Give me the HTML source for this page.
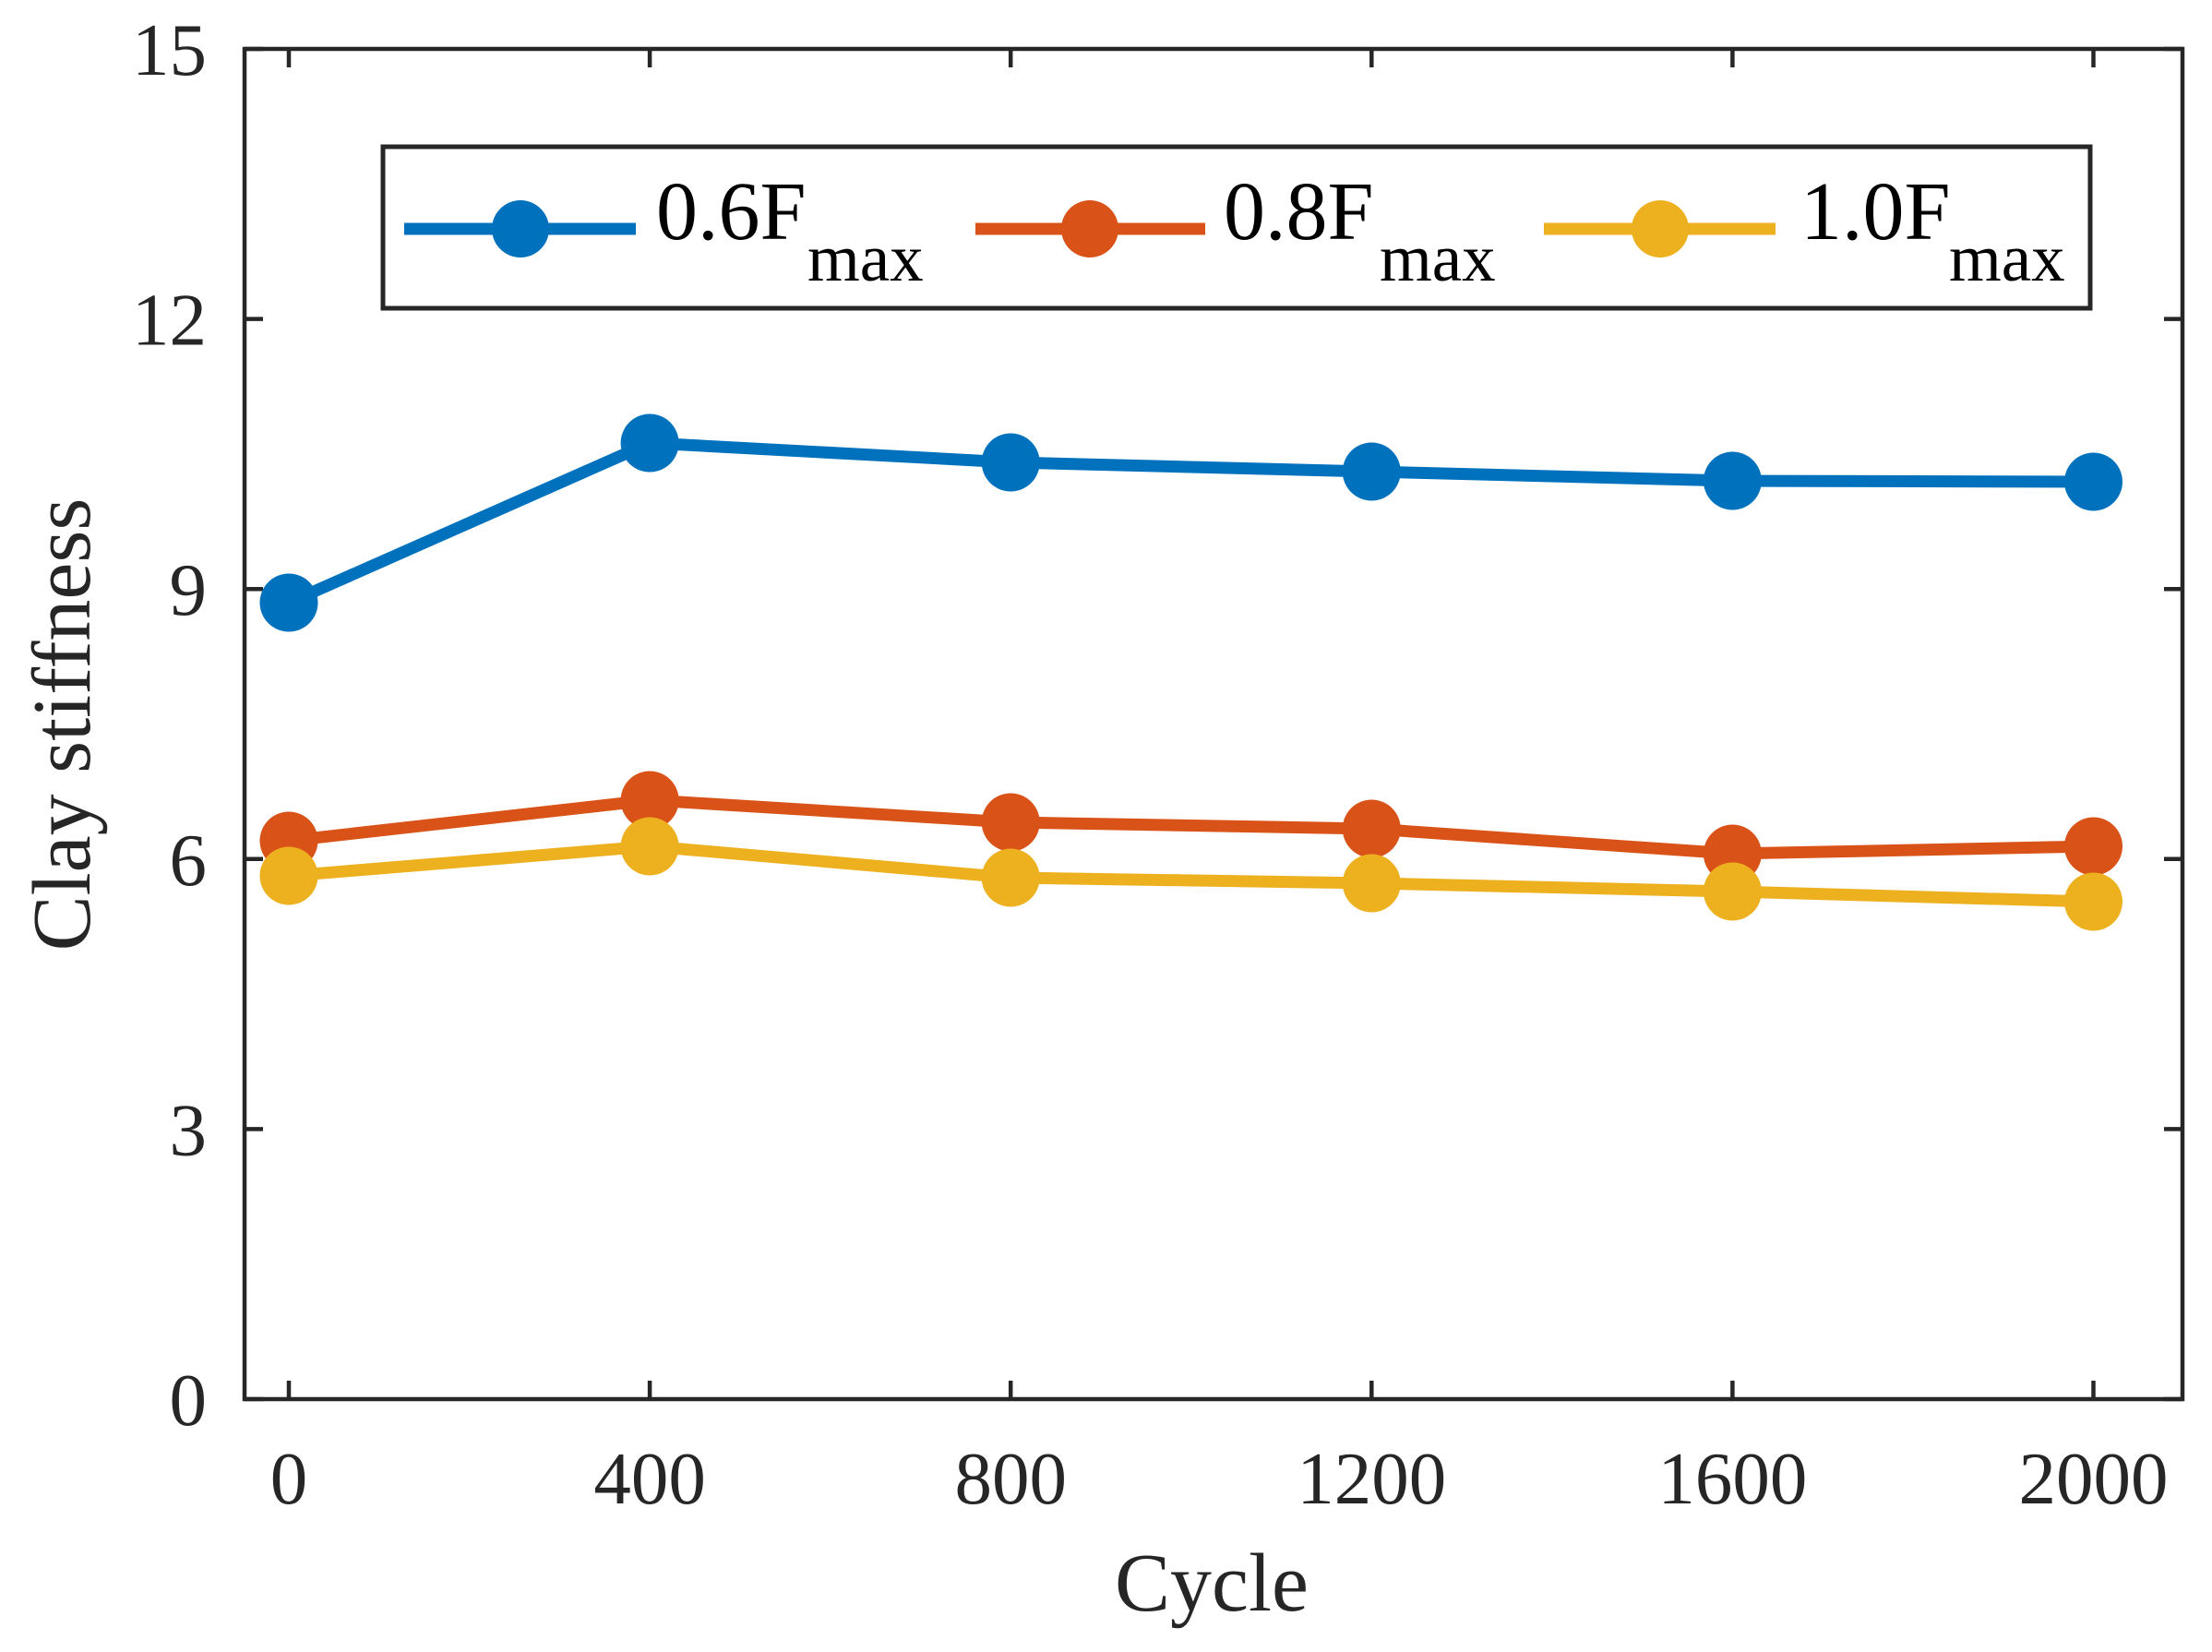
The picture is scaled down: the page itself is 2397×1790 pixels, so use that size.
<!DOCTYPE html>
<html>
<head>
<meta charset="utf-8">
<style>
  html, body { margin: 0; padding: 0; background: #ffffff; }
  svg { display: block; }
</style>
</head>
<body>
<svg xmlns="http://www.w3.org/2000/svg" width="2397" height="1790" viewBox="0 0 2397 1790">
  <rect x="0" y="0" width="2397" height="1790" fill="#ffffff"/>

  <!-- Ticks -->
  <g stroke="#262626" stroke-width="4.5" fill="none">
    <!-- x ticks bottom & top -->
    <line x1="313" y1="1516" x2="313" y2="1496"/>
    <line x1="704.1" y1="1516" x2="704.1" y2="1496"/>
    <line x1="1095.2" y1="1516" x2="1095.2" y2="1496"/>
    <line x1="1486.3" y1="1516" x2="1486.3" y2="1496"/>
    <line x1="1877.4" y1="1516" x2="1877.4" y2="1496"/>
    <line x1="2268.5" y1="1516" x2="2268.5" y2="1496"/>
    <line x1="313" y1="53" x2="313" y2="73"/>
    <line x1="704.1" y1="53" x2="704.1" y2="73"/>
    <line x1="1095.2" y1="53" x2="1095.2" y2="73"/>
    <line x1="1486.3" y1="53" x2="1486.3" y2="73"/>
    <line x1="1877.4" y1="53" x2="1877.4" y2="73"/>
    <line x1="2268.5" y1="53" x2="2268.5" y2="73"/>
    <!-- y ticks left & right -->
    <line x1="265" y1="1516" x2="285" y2="1516"/>
    <line x1="265" y1="1223.4" x2="285" y2="1223.4"/>
    <line x1="265" y1="930.8" x2="285" y2="930.8"/>
    <line x1="265" y1="638.2" x2="285" y2="638.2"/>
    <line x1="265" y1="345.6" x2="285" y2="345.6"/>
    <line x1="265" y1="53" x2="285" y2="53"/>
    <line x1="2365" y1="1516" x2="2345" y2="1516"/>
    <line x1="2365" y1="1223.4" x2="2345" y2="1223.4"/>
    <line x1="2365" y1="930.8" x2="2345" y2="930.8"/>
    <line x1="2365" y1="638.2" x2="2345" y2="638.2"/>
    <line x1="2365" y1="345.6" x2="2345" y2="345.6"/>
    <line x1="2365" y1="53" x2="2345" y2="53"/>
  </g>

  <!-- Axes box -->
  <rect x="265" y="53" width="2100" height="1463" fill="none" stroke="#262626" stroke-width="4.5"/>

  <!-- Series: blue -->
  <g>
    <polyline points="313,653 704.1,480 1095.2,501 1486.3,511 1877.4,521 2268.5,522"
              fill="none" stroke="#0072BD" stroke-width="13" stroke-linejoin="round"/>
    <g fill="#0072BD">
      <circle cx="313" cy="653" r="31.5"/>
      <circle cx="704.1" cy="480" r="31.5"/>
      <circle cx="1095.2" cy="501" r="31.5"/>
      <circle cx="1486.3" cy="511" r="31.5"/>
      <circle cx="1877.4" cy="521" r="31.5"/>
      <circle cx="2268.5" cy="522" r="31.5"/>
    </g>
  </g>

  <!-- Series: red -->
  <g>
    <polyline points="313,911 704.1,867 1095.2,891 1486.3,898 1877.4,925 2268.5,917"
              fill="none" stroke="#D95319" stroke-width="13" stroke-linejoin="round"/>
    <g fill="#D95319">
      <circle cx="313" cy="911" r="31.5"/>
      <circle cx="704.1" cy="867" r="31.5"/>
      <circle cx="1095.2" cy="891" r="31.5"/>
      <circle cx="1486.3" cy="898" r="31.5"/>
      <circle cx="1877.4" cy="925" r="31.5"/>
      <circle cx="2268.5" cy="917" r="31.5"/>
    </g>
  </g>

  <!-- Series: yellow -->
  <g>
    <polyline points="313,949 704.1,917 1095.2,951 1486.3,957 1877.4,966 2268.5,977"
              fill="none" stroke="#EDB120" stroke-width="13" stroke-linejoin="round"/>
    <g fill="#EDB120">
      <circle cx="313" cy="949" r="31.5"/>
      <circle cx="704.1" cy="917" r="31.5"/>
      <circle cx="1095.2" cy="951" r="31.5"/>
      <circle cx="1486.3" cy="957" r="31.5"/>
      <circle cx="1877.4" cy="966" r="31.5"/>
      <circle cx="2268.5" cy="977" r="31.5"/>
    </g>
  </g>

  <!-- Tick labels -->
  <g font-family="'Liberation Serif', 'Times New Roman', serif" font-size="81" fill="#262626">
    <g text-anchor="middle">
      <text x="313" y="1629">0</text>
      <text x="704.1" y="1629">400</text>
      <text x="1095.2" y="1629">800</text>
      <text x="1486.3" y="1629">1200</text>
      <text x="1877.4" y="1629">1600</text>
      <text x="2268.5" y="1629">2000</text>
    </g>
    <g text-anchor="end">
      <text x="224" y="1544">0</text>
      <text x="224" y="1251.4">3</text>
      <text x="224" y="958.8">6</text>
      <text x="224" y="666.2">9</text>
      <text x="224" y="373.6">12</text>
      <text x="224" y="81">15</text>
    </g>
  </g>

  <!-- Axis labels -->
  <g font-family="'Liberation Serif', 'Times New Roman', serif" font-size="90" fill="#262626">
    <text x="1313" y="1745" text-anchor="middle">Cycle</text>
    <text x="0" y="0" text-anchor="middle" transform="translate(97,785) rotate(-90)">Clay stiffness</text>
  </g>

  <!-- Legend -->
  <rect x="415" y="159" width="1850" height="175" fill="#ffffff" stroke="#262626" stroke-width="5"/>
  <line x1="438" y1="248" x2="689" y2="248" stroke="#0072BD" stroke-width="13"/>
  <circle cx="564" cy="248" r="31" fill="#0072BD"/>
  <line x1="1057" y1="248" x2="1306" y2="248" stroke="#D95319" stroke-width="13"/>
  <circle cx="1181" cy="248" r="31" fill="#D95319"/>
  <line x1="1673" y1="248" x2="1924" y2="248" stroke="#EDB120" stroke-width="13"/>
  <circle cx="1799" cy="248" r="31" fill="#EDB120"/>
  <g font-family="'Liberation Serif', 'Times New Roman', serif" fill="#000000">
    <text x="711" y="259" font-size="90">0.6F</text>
    <text x="875" y="304" font-size="73">max</text>
    <text x="1326" y="259" font-size="90">0.8F</text>
    <text x="1495" y="304" font-size="73">max</text>
    <text x="1951" y="259" font-size="90">1.0F</text>
    <text x="2112" y="304" font-size="73">max</text>
  </g>
</svg>
</body>
</html>
